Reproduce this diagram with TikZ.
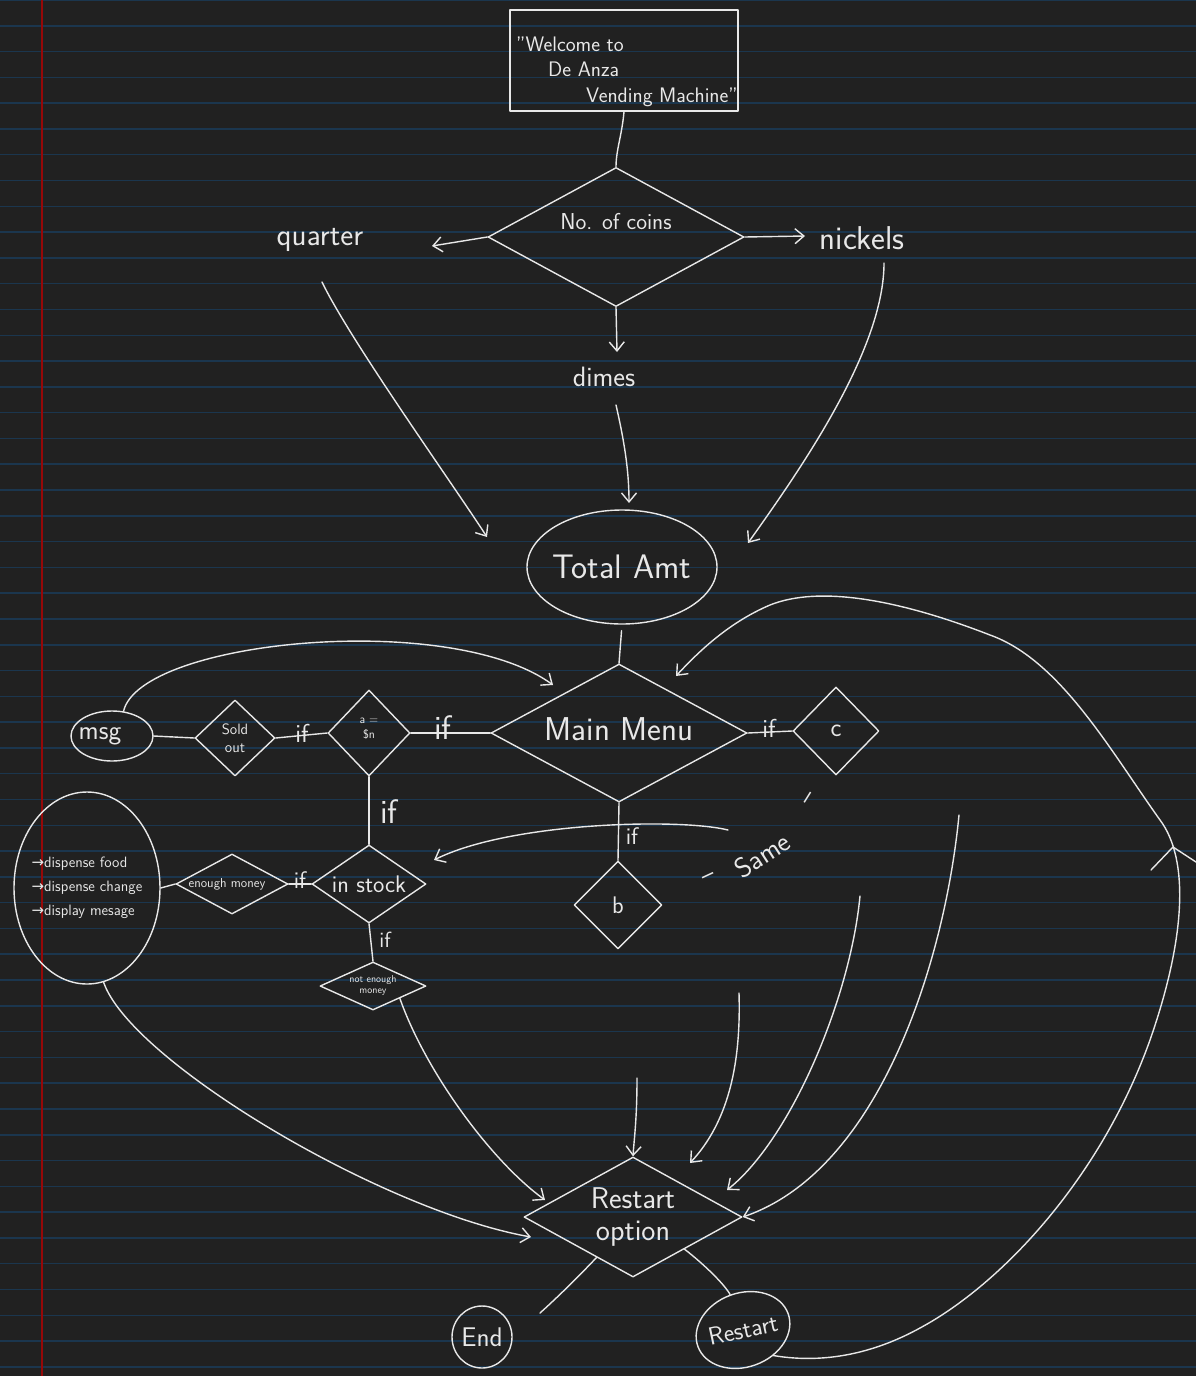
\documentclass[tikz,border=0pt]{standalone}
\usepackage{fontspec}
\newfontfamily\symfont{DejaVu Sans}
\usetikzlibrary{shapes.geometric,arrows.meta}
\definecolor{paper}{RGB}{33,33,33}
\definecolor{ruling}{RGB}{27,54,78}
\definecolor{margin}{RGB}{150,8,8}
\definecolor{chalk}{RGB}{232,232,232}
\tikzset{
  ink/.style={draw=chalk, line width=1.4pt, line cap=round, line join=round},
  arr/.style={ink, -{Straight Barb[length=9pt,width=15pt,line width=1.4pt]}},
  tx/.style={text=chalk, font=\sffamily\fontsize{#1}{#1}\selectfont, inner sep=0pt},
  dia/.style 2 args={diamond, ink, inner sep=0pt, minimum width=#1pt, minimum height=#2pt},
  oval/.style 2 args={ellipse, ink, inner sep=0pt, minimum width=#1pt, minimum height=#2pt},
}
\begin{document}
\begin{tikzpicture}[x=1pt, y=-1pt]
% ruled notebook page
\useasboundingbox (0,0) rectangle (1196,1376);
\fill[paper] (0,0) rectangle (1196,1376);
\foreach \k in {0,...,53} \draw[ruling, line width=1.5pt] (0,\k*25.79) -- (1196,\k*25.79);
\draw[margin, line width=2.2pt] (42,0) -- (42,1376);

% ---- nodes ----
\node[ink, rectangle, minimum width=228pt, minimum height=101pt, inner sep=0pt] (wel) at (624,60.5) {};
\node[tx=21, align=left, anchor=base west] (welt) at (516,102)
  {"Welcome to\\[4.5pt]\hspace*{32pt}De Anza\\[4.5pt]\hspace*{70pt}Vending Machine"};
\node[dia={256}{139}, label={[tx=23,yshift=15pt]center:No. of coins}] (coins) at (616,237) {};
\node[tx=31] (qt) at (320,240) {quarter};
\node[tx=33] (nk) at (862,238) {nickels};
\node[tx=28] (dm) at (604,377) {dimes};
\node[oval={190}{114}, label={[tx=34]center:Total Amt}] (tamt) at (622,567) {};
\node[dia={256}{138}, label={[tx=33,yshift=4pt]center:Main Menu}] (menu) at (619,733) {};
\node[dia={82}{86}, label={[tx=12,align=center,yshift=4pt]center:{a =\\[3pt]\$n}}] (adia) at (369,733) {};
\node[dia={80}{76}, label={[tx=15,align=center]center:{Sold\\[3pt]out}}] (sold) at (235,738) {};
\node[oval={82}{50}, label={[tx=27,xshift=-12pt]center:msg}] (msg) at (112,736) {};
\node[dia={114}{78}, label={[tx=24]center:in stock}] (stock) at (369,884) {};
\node[dia={112}{60}, label={[tx=13,xshift=-5pt]center:enough money}] (enough) at (232,884) {};
\node[oval={146}{192}, label={[tx=15,align=left]center:{{\symfont→}dispense food\\[9pt]{\symfont→}dispense change\\[9pt]{\symfont→}display mesage}}] (disp) at (87,888) {};
\node[dia={106}{48}, label={[tx=10,align=center]center:{not enough\\[1pt]money}}] (nem) at (373,986) {};
\node[dia={88}{88}, label={[tx=24]center:b}] (bdia) at (618,905) {};
\node[dia={86}{88}, label={[tx=26]center:c}] (cdia) at (836,731) {};
\node[tx=26, rotate=25] (dash1) at (709,878) {–};
\node[tx=28, rotate=33] (same) at (762,855) {Same};
\node[tx=26, rotate=58] (dash2) at (810,799) {–};
\node[dia={218}{120}, label={[tx=30,align=center]center:{Restart\\[2pt]option}}] (ro) at (633,1217) {};
\node[oval={60}{62}, label={[tx=27]center:End}] (endc) at (482,1337) {};
\node[oval={96}{74}, rotate=20, label={[tx=25,rotate=12]center:Restart}] (rst) at (743,1330) {};

% condition marks on the branches
\node[tx=34] (if1) at (443,728) {if};
\node[tx=26] (if2) at (302,733) {if};
\node[tx=26] (if3) at (769,728) {if};
\node[tx=24] (if4) at (632,836) {if};
\node[tx=34] (if5) at (389,812) {if};
\node[tx=24] (if6) at (300,880) {if};
\node[tx=22] (if7) at (385,940) {if};

% free ends of the hand-drawn arrows
\coordinate (qtip) at (432,246);
\coordinate (ntip) at (805,236);
\coordinate (dtip) at (617,352);
\coordinate (qs) at (322,282);  \coordinate (qe) at (487,537);
\coordinate (ds) at (616,405);  \coordinate (de) at (629,503);
\coordinate (ns) at (884,263);  \coordinate (ne) at (748,543);
\coordinate (mtip1) at (553,685);
\coordinate (mtip2) at (676,676);
\coordinate (cs) at (728,830);  \coordinate (ce) at (434,860);
\coordinate (v1s) at (637,1078);
\coordinate (v2s) at (739,993);  \coordinate (v2e) at (690,1163);
\coordinate (v3s) at (860,896);  \coordinate (v3e) at (727,1190);
\coordinate (v4s) at (959,815);
\coordinate (l1e) at (531,1237);
\coordinate (l2e) at (545,1200);
\coordinate (ee) at (540,1313);

% ---- connectors ----
\draw[ink] (wel.south) .. controls (622,135) and (616,150) .. (coins.north);
\draw[arr] (coins.west) -- (qtip);
\draw[arr] (coins.east) -- (ntip);
\draw[arr] (coins.south) -- (dtip);
\draw[arr] (qs) .. controls (350,340) and (450,480) .. (qe);
\draw[arr] (ds) .. controls (624,440) and (629,470) .. (de);
\draw[arr] (ns) .. controls (884,350) and (800,470) .. (ne);
\draw[ink, shorten <=6pt] (tamt.south) -- (menu.north);

\draw[ink] (menu.west) -- (adia.east);
\draw[ink] (adia.west) -- (sold.east);
\draw[ink] (sold.west) -- (msg.east);
\draw[ink] (menu.east) -- (cdia.west);
\draw[ink] (menu.south) -- (bdia.north);
\draw[ink] (adia.south) -- (stock.north);
\draw[ink] (stock.west) -- (enough.east);
\draw[ink] (enough.west) -- (disp.east);
\draw[ink] (stock.south) -- (nem.north);

\draw[arr] (msg.65) .. controls (140,640) and (450,610) .. (mtip1);
\draw[arr] (cs) .. controls (680,818) and (510,822) .. (ce);
\draw[arr] (rst.-60) .. controls (830,1365) and (880,1350) .. (920,1328)
  .. controls (1000,1285) and (1100,1180) .. (1150,1040)
  .. controls (1185,940) and (1190,860) .. (1160,820)
  .. controls (1110,750) and (1060,660) .. (990,635)
  .. controls (900,600) and (820,585) .. (770,605)
  .. controls (730,622) and (700,650) .. (mtip2);
\draw[ink] (1151,870) -- (1173,847) -- (1196,862);

\draw[arr] (v1s) .. controls (637,1120) and (634,1140) .. (ro.north);
\draw[arr] (v2s) .. controls (741,1060) and (730,1120) .. (v2e);
\draw[arr] (v3s) .. controls (850,1000) and (790,1140) .. (v3e);
\draw[arr] (v4s) .. controls (945,960) and (880,1170) .. (ro.east);
\draw[arr] (disp.-80) .. controls (130,1060) and (380,1210) .. (l1e);
\draw[arr] (nem.south east) .. controls (425,1070) and (490,1160) .. (l2e);

\draw[ink] (ro.-132) .. controls (580,1275) and (560,1295) .. (ee);
\draw[ink] (ro.-32) .. controls (705,1265) and (725,1285) .. (rst.north);
\end{tikzpicture}
\end{document}
